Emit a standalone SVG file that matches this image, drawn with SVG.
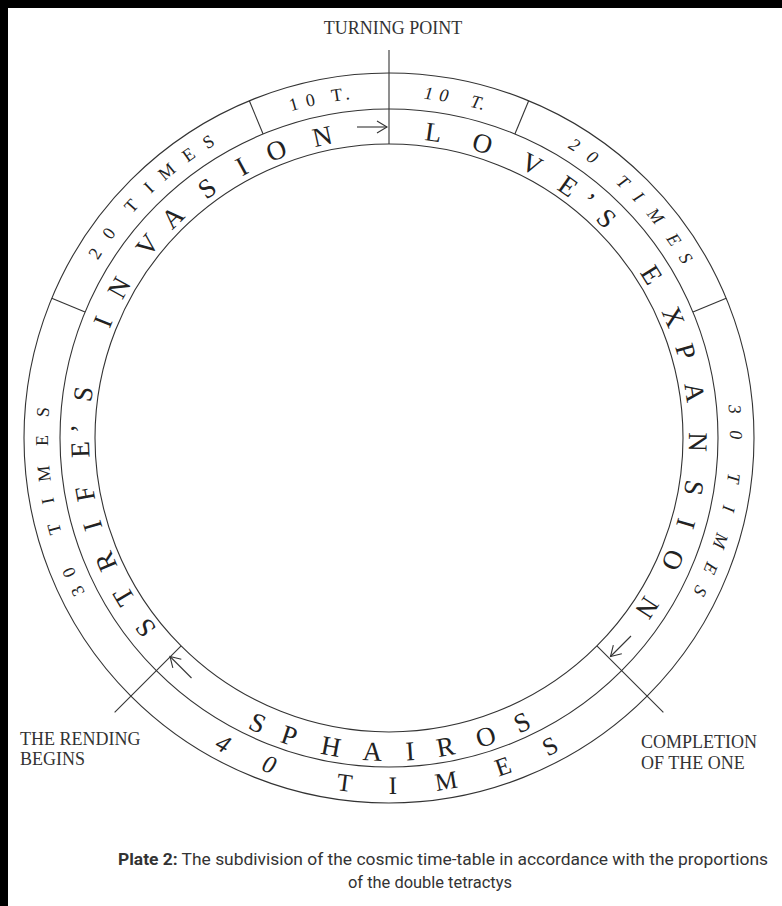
<svg xmlns="http://www.w3.org/2000/svg" width="782" height="906" viewBox="0 0 782 906">
<style>
.ln{fill:none;stroke:#333;stroke-width:1.1}
.rt{font-family:"Liberation Serif","Times New Roman",serif;fill:#222}
.big{font-size:27px}
.sm{font-size:18px}
.bt{font-size:25px}
.it{font-style:italic}
.lab{font-family:"Liberation Serif","Times New Roman",serif;font-size:18px;fill:#333}
.cap{font-family:Roboto,"Noto Sans",sans-serif;font-size:16px;fill:#333}
</style>
<defs>
<path id="pi" d="M389,138 A300,300 0 1 1 389,738 A300,300 0 1 1 389,138"/>
<path id="po" d="M389,97 A341,341 0 1 1 389,779 A341,341 0 1 1 389,97"/>
<path id="bi" d="M66,438 A323,323 0 0 0 712,438"/>
<path id="bo" d="M33,438 A356,356 0 0 0 745,438"/>
<marker id="ah" markerUnits="userSpaceOnUse" markerWidth="24" markerHeight="24" viewBox="-12 -12 24 24" refX="0" refY="0" orient="auto" overflow="visible">
<path d="M-10,-6 L0,0 L-10,6" fill="none" stroke="#333" stroke-width="1.1"/>
</marker>
</defs>
<rect width="782" height="906" fill="#fff"/>
<rect x="0" y="0" width="782" height="8" fill="#000"/>
<rect x="0" y="0" width="8" height="906" fill="#000"/>

<g id="rings">
<circle class="ln" cx="389" cy="438" r="365"/>
<circle class="ln" cx="389" cy="438" r="329"/>
<circle class="ln" cx="389" cy="438" r="294"/>
</g>

<g id="connectors">
<line class="ln" x1="389" y1="50" x2="389" y2="144"/>
<line class="ln" x1="596.89" y1="645.89" x2="663.36" y2="712.36"/>
<line class="ln" x1="181.11" y1="645.89" x2="114.64" y2="712.36"/>
<line class="ln" x1="514.9" y1="134.04" x2="528.68" y2="100.78"/>
<line class="ln" x1="263.1" y1="134.04" x2="249.32" y2="100.78"/>
<line class="ln" x1="692.96" y1="312.1" x2="726.22" y2="298.32"/>
<line class="ln" x1="85.04" y1="312.1" x2="51.78" y2="298.32"/>
<line class="ln" x1="357" y1="127" x2="387" y2="127" marker-end="url(#ah)"/>
<line class="ln" x1="631" y1="636" x2="610.5" y2="656.5" marker-end="url(#ah)"/>
<line class="ln" x1="191.5" y1="678" x2="170" y2="656.5" marker-end="url(#ah)"/>
</g>

<g id="ring-texts">
<text id="loves-expansion" class="rt big"><textPath href="#pi" startOffset="35.21"><tspan dx="0 30.69 32.35 23.36 11.34 12.61 0 47.66 28.08 18.35 25.69 29.2 27.26 23.6 23.46 32.87">LOVE’S EXPANSION</tspan></textPath></text>
<text id="strifes-invasion" class="rt big"><textPath href="#pi" startOffset="1207.25"><tspan dx="0 20.89 20.97 23.67 19.94 27.18 7.67 22.02 0 54.04 22.41 30.26 20.3 26.21 27.79 22.94 27.11">STRIFE’S INVASION</tspan></textPath></text>
<text id="sphairos" class="rt big"><textPath href="#bi" startOffset="360.05"><tspan dx="0 19.94 27.25 23.41 24.66 23.1 24.05 22.85">SPHAIROS</tspan></textPath></text>
<text id="t40" class="rt bt"><textPath href="#bo" startOffset="375.85"><tspan class="it" dx="0 39.1">40</tspan><tspan dx="0 59.96 37.9 39.42 41.54 37.61"> TIMES</tspan></textPath></text>
<text id="t10l" class="rt sm"><textPath href="#po" startOffset="2042.39"><tspan dx="0 7.67 0 12.28 4.16">10 T.</tspan></textPath></text>
<text id="t10r" class="rt sm it"><textPath href="#po" startOffset="34.78"><tspan dx="0 5.88 0 18.14 1.08">10 T.</tspan></textPath></text>
<text id="t20l" class="rt sm"><textPath href="#po" startOffset="1793"><tspan dx="0 14.81 0 20.62 16.5 12.81 13.28 12.7">20 TIMES</tspan></textPath></text>
<text id="t20r" class="rt sm it"><textPath href="#po" startOffset="187.75"><tspan dx="0 12.43 0 24.68 12.84 15.1 16.17 11.42">20 TIMES</tspan></textPath></text>
<text id="t30l" class="rt sm"><textPath href="#po" startOffset="1446"><tspan dx="0 11.24 0 30.73 20.07 15.79 19.23 17.47">30 TIMES</tspan></textPath></text>
<text id="t30r" class="rt sm it"><textPath href="#po" startOffset="502.61"><tspan dx="0 16 0 28.85 22.36 22.24 15.57 14.41">30 TIMES</tspan></textPath></text>
</g>

<g id="labels">
<text id="turning-point" class="lab" x="393" y="34" text-anchor="middle">TURNING POINT</text>
<g id="rending-begins"><text class="lab" x="20" y="745">THE RENDING</text><text class="lab" x="20" y="765">BEGINS</text></g>
<g id="completion"><text class="lab" x="641" y="748">COMPLETION</text><text class="lab" x="641" y="769">OF THE ONE</text></g>
</g>

<g id="caption">
<text class="cap" x="118" y="865" textLength="650" lengthAdjust="spacingAndGlyphs"><tspan font-weight="bold">Plate 2:</tspan> The subdivision of the cosmic time-table in accordance with the proportions</text>
<text class="cap" x="348" y="888" textLength="164" lengthAdjust="spacingAndGlyphs">of the double tetractys</text>
</g>
</svg>
